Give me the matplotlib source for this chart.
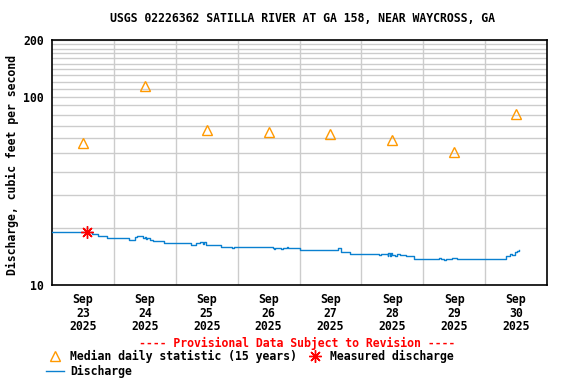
import matplotlib
matplotlib.use('Agg')
import matplotlib.pyplot as plt
from matplotlib.lines import Line2D
from datetime import datetime, timedelta

# Discharge (15-min data simplified to step breakpoints), hours since Sep 23 00:00
q_hours = [0, 2, 2.5, 3, 6, 12, 15.4, 17.9, 21.2, 29.9, 32.1, 32.8, 35.4, 36, 36.5,
           37, 38, 39.2, 43.4, 54.1, 56, 57.3, 58.5, 59, 59.9, 65.7, 70, 70.5, 72,
           81.2, 85.7, 86, 86.5, 89, 89.5, 91, 91.5, 96, 110.2, 111, 112.1, 115.4,
           127, 127.5, 130.2, 130.5, 131, 131.5, 132, 133, 134, 135, 136, 137.3,
           140.5, 148.9, 150, 151, 152, 153, 155, 157, 160, 165, 170, 172, 176,
           177.5, 178.6, 179.5, 180.5, 181.2]
q_cfs = [19.2, 19.1, 19.2, 19.1, 19.1, 19.2, 18.7, 18.3, 17.8, 17.3, 17.9, 18.3, 17.8,
         18.0, 17.6, 17.8, 17.4, 17.2, 16.7, 16.3, 16.7, 17.0, 16.6, 16.9, 16.4, 15.9,
         15.8, 15.9, 15.9, 16.0, 15.8, 15.5, 15.8, 15.6, 15.8, 15.9, 15.7, 15.3, 15.4,
         15.7, 15.0, 14.6, 14.4, 14.6, 14.2, 14.8, 14.3, 14.7, 14.5, 14.3, 14.6, 14.4,
         14.5, 14.2, 13.7, 13.8, 13.9, 13.8, 13.6, 13.8, 13.9, 13.7, 13.8, 13.7, 13.8,
         13.7, 14.2, 14.6, 14.4, 14.9, 15.1, 15.3]

# Median daily statistic (15 years), plotted at noon
median_days = [23, 24, 25, 26, 27, 28, 29, 30]
median_cfs = [57, 114, 66.5, 65, 63, 59, 51, 81]

# Measured discharge
meas_hour = 13.4
meas_cfs = 19.1

start = datetime(2025, 9, 23)
q_time = [start + timedelta(hours=h) for h in q_hours]
med_time = [datetime(2025, 9, d, 12) for d in median_days]
meas_time = start + timedelta(hours=meas_hour)

font = 'DejaVu Sans Mono'
fs = 8.3
blue = '#0a80d0'
orange = '#ff9900'

fig = plt.figure(figsize=(5.76, 3.84), dpi=100)
ax = fig.add_axes([52 / 576, 1 - 285 / 384, 495 / 576, 245 / 384])

ax.plot(q_time, q_cfs, color=blue, lw=1.0, drawstyle='steps-post', zorder=3)
ax.plot(med_time, median_cfs, linestyle='none', marker='^', markersize=7,
        mfc='none', mec=orange, mew=1.0, zorder=4)
ax.plot([meas_time], [meas_cfs], linestyle='none', marker=(8, 2, 0), markersize=9,
        color='red', mew=1.0, zorder=5)

ax.set_yscale('log')
ax.set_ylim(10, 200)
ax.set_xlim(start, start + timedelta(days=8))

ax.set_yticks([10, 100, 200])
ax.set_yticklabels(['10', '100', '200'], fontfamily=font, fontweight='bold', fontsize=fs)
minor = [20, 30, 40, 50, 60, 70, 80, 90, 110, 120, 130, 140, 150, 160, 170, 180, 190]
ax.set_yticks(minor, minor=True)
ax.yaxis.set_minor_formatter(plt.NullFormatter())

# vertical grid at midnight, labels at noon
ax.set_xticks([start + timedelta(days=i) for i in range(1, 8)], minor=True)
ax.set_xticks(med_time)
ax.set_xticklabels(['Sep\n%d\n2025' % d for d in median_days],
                   fontfamily=font, fontweight='bold', fontsize=fs, linespacing=1.05)

ax.grid(which='both', axis='y', color='#cccccc', lw=1)
ax.grid(which='minor', axis='x', color='#cccccc', lw=1)
ax.grid(which='major', axis='x', visible=False)
ax.tick_params(which='both', length=0, pad=6, colors='black')
ax.set_axisbelow(True)
for s in ax.spines.values():
    s.set_linewidth(1.2)

fig.text(302 / 576, 1 - 19 / 384, 'USGS 02226362 SATILLA RIVER AT GA 158, NEAR WAYCROSS, GA',
         ha='center', va='center', fontfamily=font, fontweight='bold', fontsize=fs)
fig.text(12 / 576, 1 - 165 / 384, 'Discharge, cubic feet per second', rotation=90,
         ha='center', va='center', fontfamily=font, fontweight='bold', fontsize=fs)
fig.text(297 / 576, 1 - 343 / 384, '---- Provisional Data Subject to Revision ----',
         ha='center', va='center', color='red', fontfamily=font, fontweight='bold', fontsize=fs)

handles = [
    Line2D([], [], linestyle='none', marker='^', markersize=7, mfc='none', mec=orange, mew=1.0),
    Line2D([], [], color=blue, lw=1.0),
    Line2D([], [], linestyle='none', marker=(8, 2, 0), markersize=9, color='red', mew=1.0),
]
labels = ['Median daily statistic (15 years)', 'Discharge', 'Measured discharge']
fig.legend(handles, labels, ncol=2, loc='upper left', bbox_to_anchor=(40 / 576, 1 - 344 / 384),
           frameon=False, handlelength=1.6, handletextpad=0.5, columnspacing=0.8,
           labelspacing=0.2, borderpad=0,
           prop={'family': font, 'weight': 'bold', 'size': fs})

fig.savefig('out.png', dpi=100)
